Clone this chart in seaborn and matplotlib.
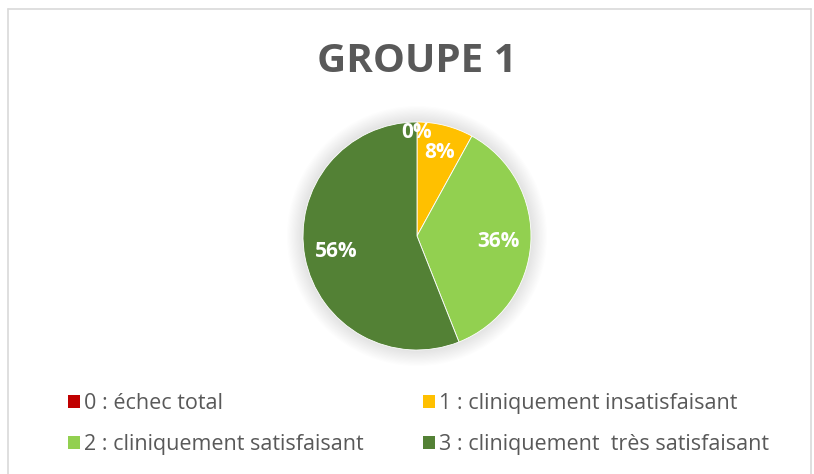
import numpy as np
import matplotlib.pyplot as plt
import seaborn as sns
from matplotlib.patches import Patch, Circle
from matplotlib.lines import Line2D

categories = ['0 : échec total', '1 : cliniquement insatisfaisant',
              '2 : cliniquement satisfaisant', '3 : cliniquement  très satisfaisant']
values = [0, 8, 36, 56]
colors = ['#C00000', '#FFC000', '#92D050', '#538135']
title = 'GROUPE 1'

sns.set_theme(style='white')
plt.rcParams['font.family'] = ['Open Sans', 'DejaVu Sans']

fig = plt.figure(figsize=(8.14, 4.74), dpi=100)
W, H = 814, 474

# chart border (top, left, right)
for xs, ys in [([8, 811], [465, 465]), ([8, 8], [0, 465]), ([811, 811], [0, 465])]:
    fig.add_artist(Line2D([x / W for x in xs], [y / H for y in ys],
                          transform=fig.transFigure, color='#D9D9D9', lw=1.2))

cx, cy, r = 417, 236, 114
ax = fig.add_axes([(cx - r) / W, (H - cy - r) / H, 2 * r / W, 2 * r / H])

# soft shadow around the pie
for k in range(14):
    ax.add_patch(Circle((0, 0), 1.0 + 0.01 * (k + 1), color='gray',
                        alpha=0.016, lw=0, zorder=0, clip_on=False))

wedges, texts, autotexts = ax.pie(
    values, colors=colors, startangle=90, counterclock=False,
    autopct=lambda p: f'{p:.0f}%', pctdistance=0.72,
    wedgeprops=dict(edgecolor='white', linewidth=0.6),
    textprops=dict(color='white', fontsize=15, fontweight='bold'))
for w in wedges:
    w.set_zorder(2)

# push labels of the small slices outward
for v, t in zip(values, autotexts):
    x, y = t.get_position()
    if v == 0:
        t.set_position((x / 0.72 * 0.91, y / 0.72 * 0.91))
    elif v < 10:
        t.set_position((x / 0.72 * 0.80, y / 0.72 * 0.76))
    t.set_zorder(3)

ax.set_xlim(-1, 1)
ax.set_ylim(-1, 1)
ax.set_aspect('equal')
ax.axis('off')

fig.text(cx / W, 1 - 61 / H, title, ha='center', va='center',
         fontsize=29, fontweight='bold', color='#595959')

# legend: two columns, filled row by row
for col, left in enumerate([68, 423]):
    idx = [col, col + 2]
    leg = fig.legend([Patch(facecolor=colors[i], edgecolor='none') for i in idx],
                     [categories[i] for i in idx],
                     loc='upper left', bbox_to_anchor=(left / W, 1 - 393 / H),
                     frameon=False, labelcolor='#595959', fontsize=15.5,
                     handlelength=0.55, handleheight=0.55, handletextpad=0.2,
                     labelspacing=0.95, borderpad=0, borderaxespad=0)

fig.savefig('out.png', dpi=100)
